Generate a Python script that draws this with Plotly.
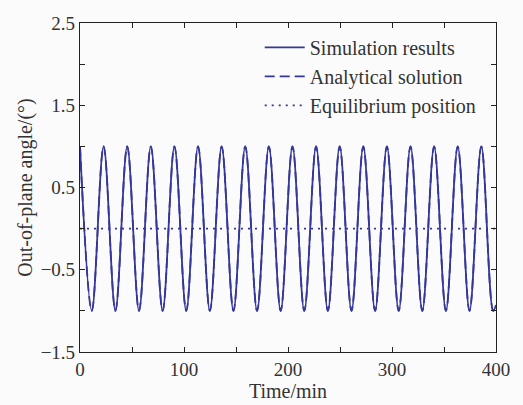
import plotly.graph_objects as go

# Extrema (time in min, angle in degrees)
extrema_time = [0, 11.35, 22.7, 34.05, 45.4, 56.75, 68.1, 79.45, 90.8, 102.15,
                113.5, 124.85, 136.2, 147.55, 158.9, 170.25, 181.6, 192.95,
                204.3, 215.65, 227.0, 238.35, 249.7, 261.05, 272.4, 283.75,
                295.1, 306.45, 317.8, 329.15, 340.5, 351.85, 363.2, 374.55,
                385.9, 397.25, 400]
extrema_angle = [1, -1, 1, -1, 1, -1, 1, -1, 1, -1,
                 1, -1, 1, -1, 1, -1, 1, -1,
                 1, -1, 1, -1, 1, -1, 1, -1,
                 1, -1, 1, -1, 1, -1, 1, -1,
                 1, -1, -0.93]

eq_time = [0, 400]
eq_angle = [0, 0]

x_ticks = [0, 50, 100, 150, 200, 250, 300, 350, 400]
x_labels = ["0", "", "100", "", "200", "", "300", "", "400"]
y_ticks = [-1.5, -1.0, -0.5, 0, 0.5, 1.0, 1.5, 2.0, 2.5]
y_labels = ["−1.5", "", "−0.5", "", "0.5", "", "1.5", "", "2.5"]

color = "#35379a"
font = "Liberation Serif, Times New Roman, serif"
fsize = 20
tsize = 19

fig = go.Figure()
fig.add_trace(go.Scatter(x=extrema_time, y=extrema_angle, mode="lines",
                         name="Simulation results",
                         line=dict(color=color, width=1.8, shape="spline", smoothing=1.0)))
fig.add_trace(go.Scatter(x=extrema_time, y=extrema_angle, mode="lines",
                         name="Analytical solution",
                         line=dict(color=color, width=1.8, dash="10px,5px", shape="spline", smoothing=1.0)))
fig.add_trace(go.Scatter(x=eq_time, y=eq_angle, mode="lines",
                         name="Equilibrium position",
                         line=dict(color=color, width=1.8, dash="2px,5px")))

axis_common = dict(showgrid=False, zeroline=False, showline=True, linecolor="#222",
                   linewidth=1.2, mirror="ticks", ticks="inside", ticklen=5,
                   automargin=False,
                   tickcolor="#222", tickfont=dict(family=font, size=tsize, color="#333"))

fig.update_layout(
    width=523, height=405,
    margin=dict(l=80, r=27, t=23, b=53),
    paper_bgcolor="#fbfbfb", plot_bgcolor="#fbfbfb",
    font=dict(family=font, size=fsize, color="#333"),
    xaxis=dict(range=[0, 400], tickvals=x_ticks, ticktext=x_labels,
               title=dict(text="Time/min", font=dict(family=font, size=fsize, color="#333"), standoff=2),
               **axis_common),
    yaxis=dict(range=[-1.5, 2.5], tickvals=y_ticks, ticktext=y_labels,
               title=dict(text="Out-of-plane angle/(°)", font=dict(family=font, size=fsize, color="#333"), standoff=2),
               **axis_common),
    legend=dict(x=0.432, y=0.985, xanchor="left", yanchor="top",
                bgcolor="rgba(0,0,0,0)", font=dict(family=font, size=fsize, color="#333"),
                itemwidth=40),
    showlegend=True,
)

fig.write_html("out.html", config={"displayModeBar": False},
               post_script="document.body.style.margin='0';document.body.style.background='#fbfbfb';")
